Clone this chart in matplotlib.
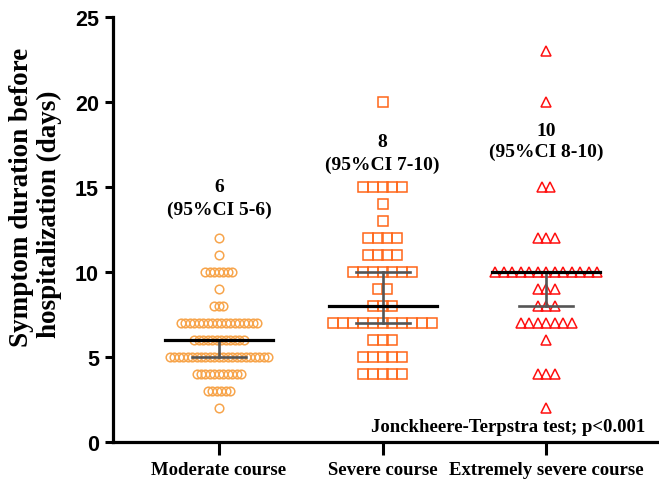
import numpy as np
import matplotlib
matplotlib.use('Agg')
import matplotlib.pyplot as plt

# dados: dias e numero de pacientes em cada linha
categorias = ['Moderate course', 'Severe course', 'Extremely severe course']

dias_mod = [2, 3, 4, 5, 6, 7, 8, 9, 10, 11, 12]
n_mod = [1, 6, 11, 23, 12, 18, 3, 1, 7, 1, 1]

dias_sev = [4, 5, 6, 7, 8, 9, 10, 11, 12, 13, 14, 15, 20]
n_sev = [5, 5, 3, 11, 3, 2, 7, 4, 4, 1, 1, 5, 1]

dias_ext = [2, 4, 6, 7, 8, 9, 10, 12, 15, 20, 23]
n_ext = [1, 3, 1, 7, 3, 3, 13, 3, 2, 1, 1]

medianas = [6, 8, 10]
ic_inf = [5, 7, 8]
ic_sup = [6, 10, 10]
textos_med = ['6', '8', '10']
textos_ic = ['(95%CI 5-6)', '(95%CI 7-10)', '(95%CI 8-10)']
y_med_txt = [15.05, 17.65, 18.35]
y_ic_txt = [13.7, 16.35, 17.1]


def enxame(pos, dias, contagens, passo):
    xs, ys = [], []
    for d, n in zip(dias, contagens):
        off = (np.arange(n) - (n - 1) / 2) * passo
        xs.extend(pos + off)
        ys.extend([d] * n)
    return np.array(xs), np.array(ys)


fig = plt.figure(figsize=(6.59, 4.81), dpi=100)
ax = fig.add_axes([113 / 659, 38 / 481, 546 / 659, 425 / 481])

x, y = enxame(0, dias_mod, n_mod, 0.0275)
ax.plot(x, y, 'o', ms=6.2, mfc='none', mec='#F7A54C', mew=1.1, zorder=2, clip_on=False)
x, y = enxame(1, dias_sev, n_sev, 0.06)
ax.plot(x, y, 's', ms=6.7, mfc='none', mec='#FF6619', mew=1.1, zorder=2, clip_on=False)
x, y = enxame(2, dias_ext, n_ext, 0.052)
ax.plot(x, y, '^', ms=7.0, mfc='none', mec='#FF1010', mew=1.1, zorder=2, clip_on=False)

for i in range(3):
    ax.plot([i, i], [ic_inf[i], ic_sup[i]], color='#555555', lw=1.9, zorder=3)
    ax.plot([i - 0.165, i + 0.165], [ic_inf[i]] * 2, color='#555555', lw=1.9, zorder=3)
    ax.plot([i - 0.165, i + 0.165], [ic_sup[i]] * 2, color='#555555', lw=1.9, zorder=3)
    ax.plot([i - 0.33, i + 0.33], [medianas[i]] * 2, color='black', lw=2.3, zorder=4)
    ax.text(i, y_med_txt[i], textos_med[i], ha='center', va='center',
            family='Liberation Serif', fontweight='bold', fontsize=14)
    ax.text(i, y_ic_txt[i], textos_ic[i], ha='center', va='center',
            family='Liberation Serif', fontweight='bold', fontsize=14)

ax.text(2.605, 0.94, 'Jonckheere-Terpstra test; p<0.001', ha='right', va='center',
        family='Liberation Serif', fontweight='bold', fontsize=13.5)

ax.set_xlim(-0.648, 2.69)
ax.set_ylim(0, 25)
ax.set_yticks([0, 5, 10, 15, 20, 25])
ax.set_xticks([0, 1, 2])
ax.set_xticklabels(categorias, family='Liberation Serif', fontweight='bold', fontsize=13.5)
for t in ax.get_yticklabels():
    t.set_family('Liberation Sans')
    t.set_fontweight('bold')
    t.set_fontsize(15.5)
ax.tick_params(axis='y', length=6, width=2.2, pad=4)
ax.tick_params(axis='x', length=9, width=2.2, pad=5)
ax.spines[['top', 'right']].set_visible(False)
ax.spines['left'].set_linewidth(2.3)
ax.spines['bottom'].set_linewidth(2.3)

fig.text(22 / 659, 1 - 197 / 481, 'Symptom duration before', rotation=90, ha='center', va='center',
         family='Liberation Serif', fontweight='bold', fontsize=19.5)
fig.text(49 / 659, 1 - 214 / 481, 'hospitalization (days)', rotation=90, ha='center', va='center',
         family='Liberation Serif', fontweight='bold', fontsize=19.5)

fig.savefig('out.png', dpi=100)
